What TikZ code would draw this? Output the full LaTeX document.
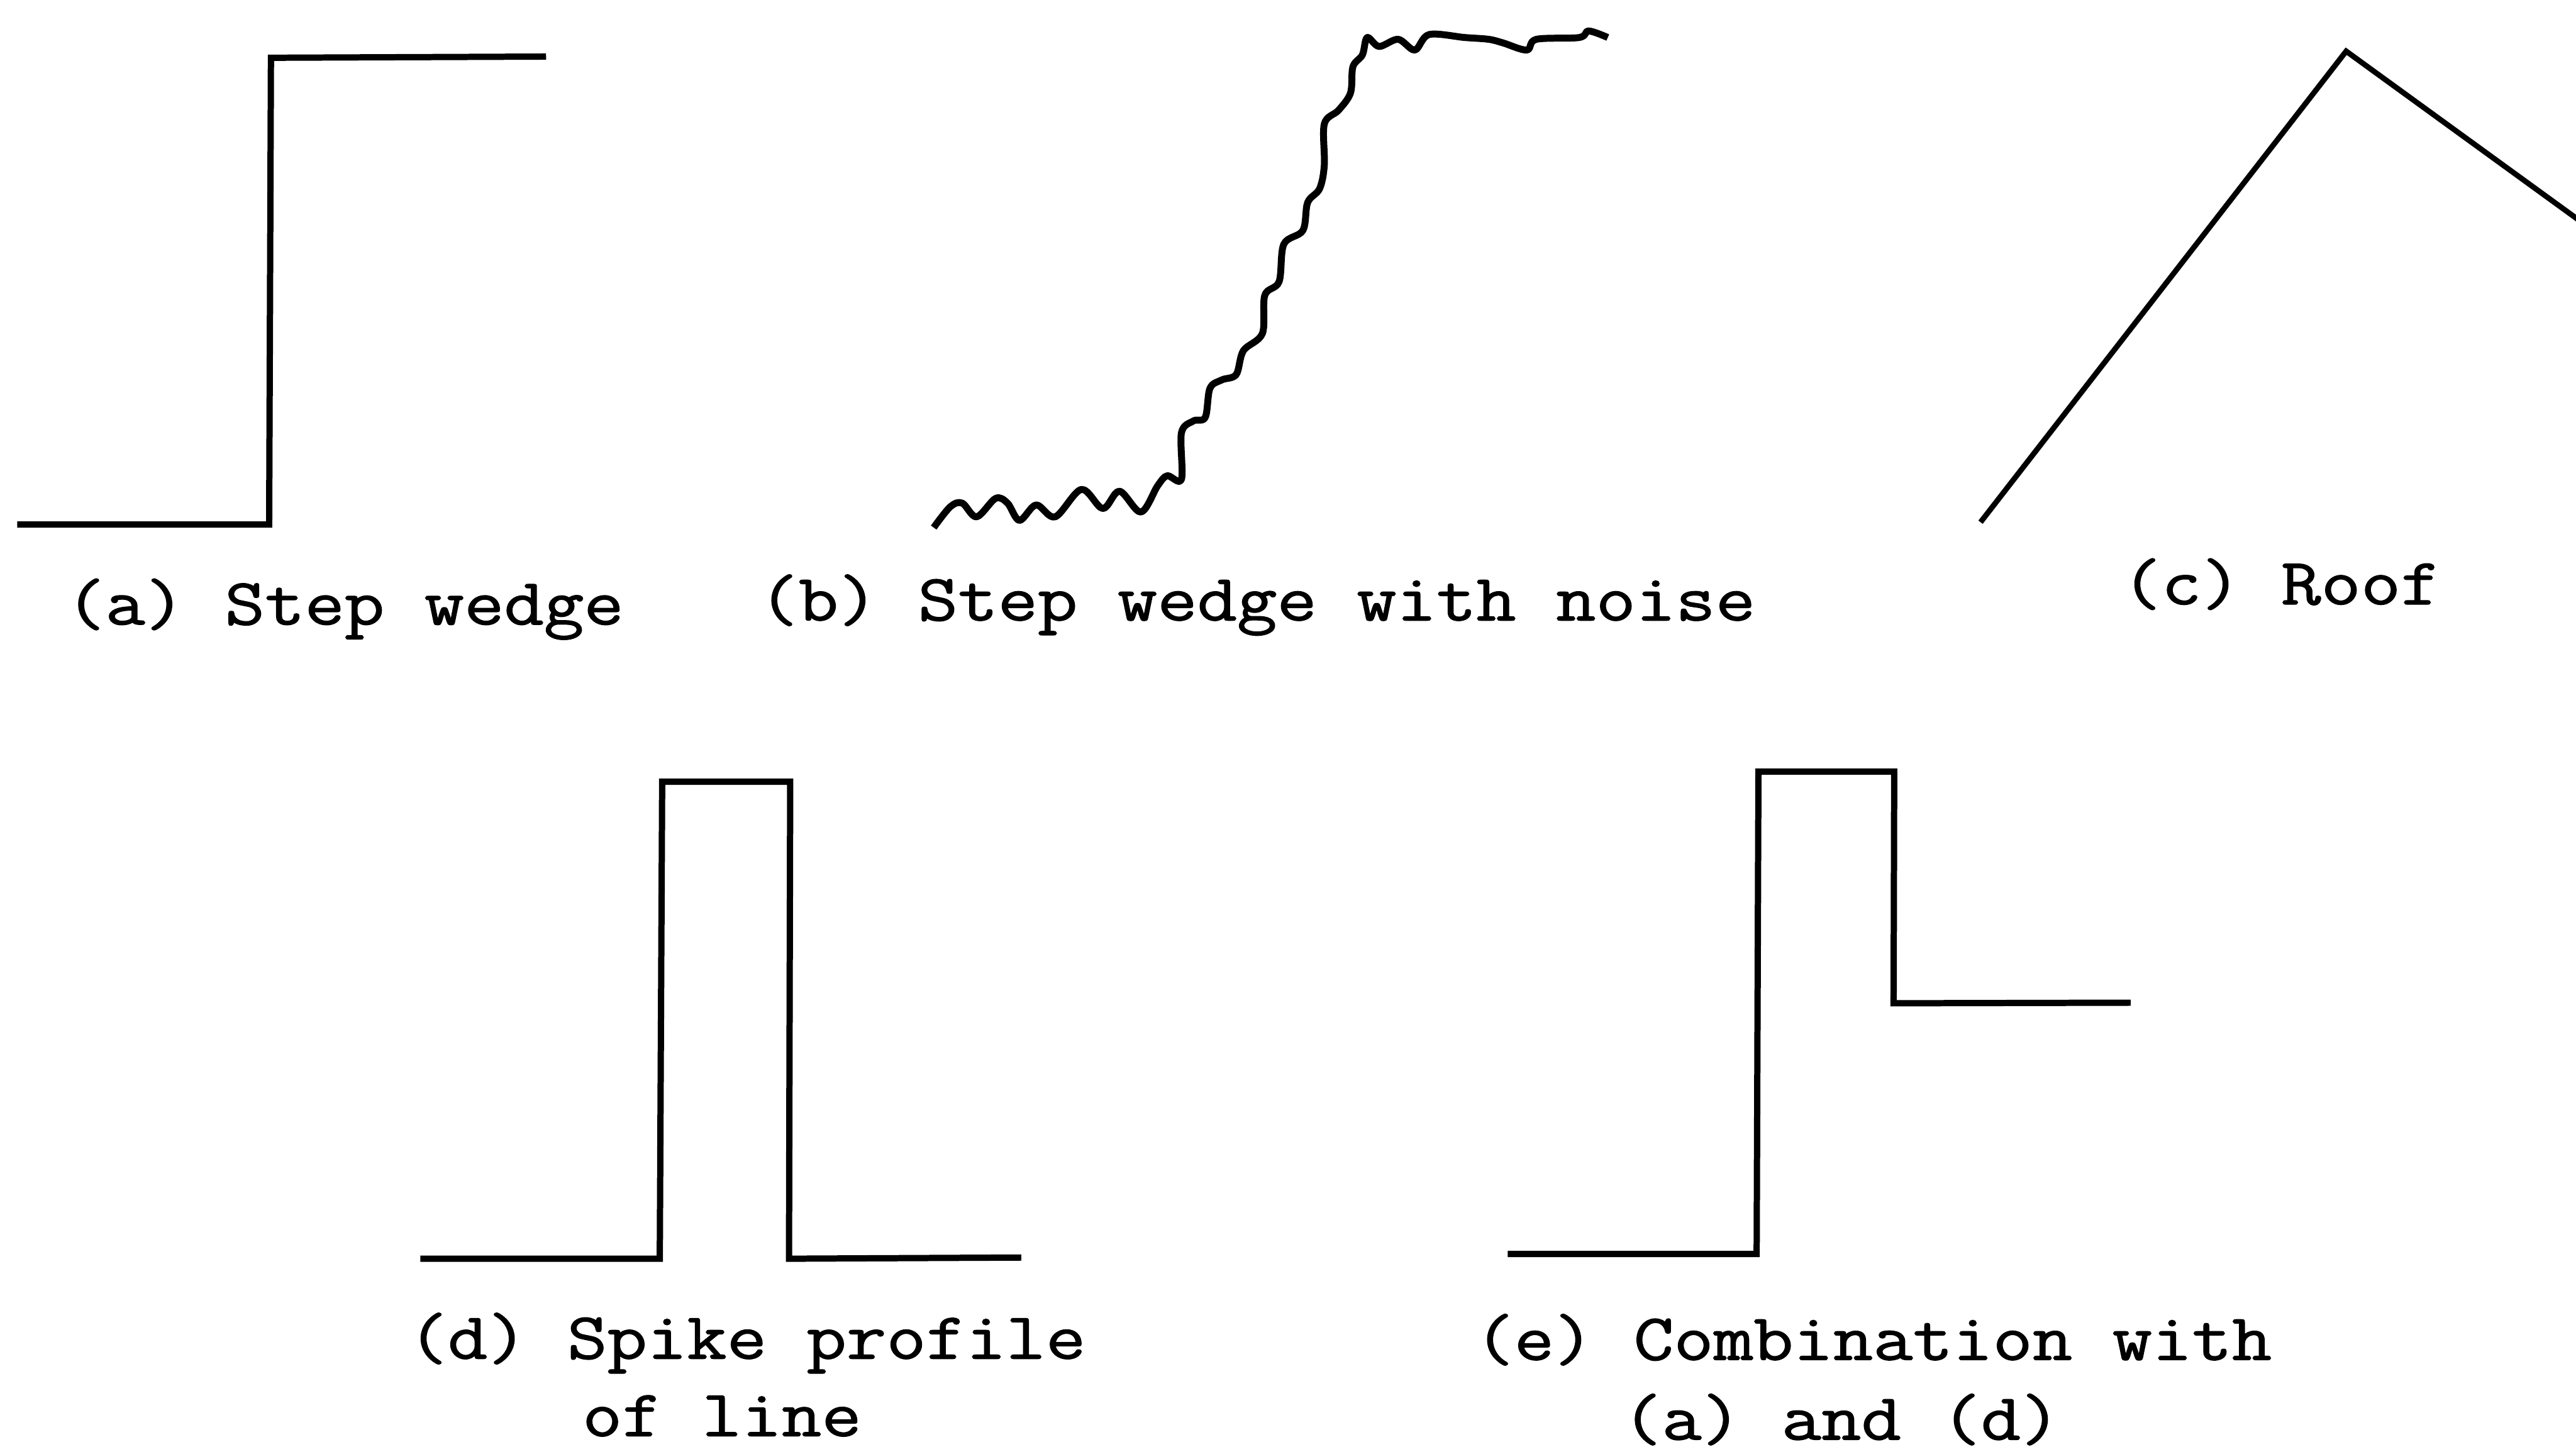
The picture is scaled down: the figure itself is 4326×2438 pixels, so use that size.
\documentclass[tikz,border=0pt]{standalone}
\usepackage{fontspec}
\newfontfamily\tw[FakeBold=1.2]{Latin Modern Mono}
\newcommand{\mytxt}[1]{\scalebox{1.17}[1]{\tw\fontsize{31.6pt}{38pt}\selectfont #1}}
\begin{document}
\begin{tikzpicture}[x=0.01cm,y=-0.01cm,line width=3pt,line join=miter,line cap=butt,
  lbl/.style={inner sep=0pt,outer sep=0pt,anchor=base west},
  curve/.style={line width=3pt},
  roofline/.style={line width=2.6pt}]
\useasboundingbox (0,0) rectangle (4326,2438);

% (a) step wedge
\draw[curve] (29,881) -- (452,881) -- (455,97) -- (917,95);

% (b) step wedge with noise
\draw[curve,line join=round,line width=3.3pt] plot[smooth,tension=0.55] coordinates {
 (1568,886) (1596,851) (1616,845) (1640,868) (1672,837) (1692,845) (1712,874)
 (1740,848) (1772,868) (1816,822) (1852,854) (1880,825) (1916,860) (1944,816)
 (1960,799) (1984,805) (1984,727) (2004,707) (2024,701) (2032,652) (2052,638)
 (2076,629) (2088,589) (2120,560) (2124,496) (2148,473) (2156,410) (2188,387)
 (2196,340) (2216,317) (2224,277) (2224,208) (2248,185) (2268,156) (2272,112)
 (2288,92) (2296,63) (2316,78) (2348,66) (2376,84) (2400,58) (2460,63)
 (2500,66) (2524,72) (2564,84) (2580,66) (2652,63) (2668,52) (2700,63)};

% (c) roof
\draw[roofline] (3326,877) -- (3940,86) -- (4345,380);

% (d) spike profile
\draw[curve] (706,2114) -- (1108,2114) -- (1112,1313) -- (1327,1313) -- (1325,2114) -- (1715,2112);

% (e) combination
\draw[curve] (2532,2106) -- (2950,2106) -- (2953,1296) -- (3181,1296) -- (3180,1685) -- (3578,1684);

% labels
\node[lbl] (la)  at (110,1049)  {\mytxt{(a) Step wedge}};
\node[lbl] (lb)  at (1274,1042) {\mytxt{(b) Step wedge with noise}};
\node[lbl] (lc)  at (3563,1015) {\mytxt{(c) Roof}};
\node[lbl] (ld1) at (685,2282)  {\mytxt{(d) Spike profile}};
\node[lbl] (ld2) at (978,2412)  {\mytxt{of line}};
\node[lbl] (le1) at (2476,2284) {\mytxt{(e) Combination with}};
\node[lbl] (le2) at (2724,2418) {\mytxt{(a) and (d)}};
\end{tikzpicture}
\end{document}
